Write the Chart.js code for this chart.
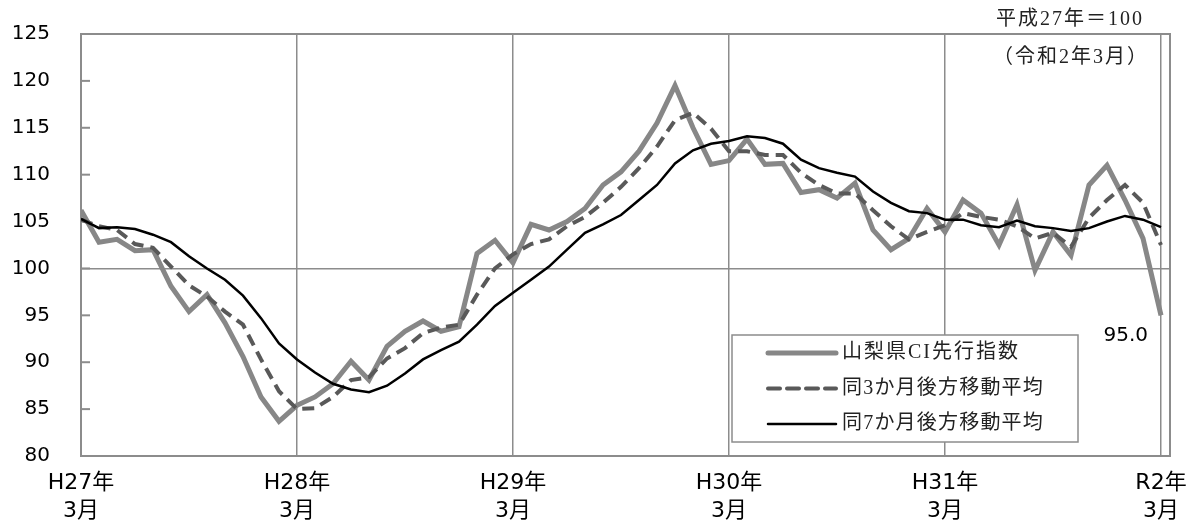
<!DOCTYPE html>
<html>
<head>
<meta charset="utf-8">
<script src="https://cdn.jsdelivr.net/npm/chart.js@4.4.1/dist/chart.umd.min.js"></script>
<style>
    html, body { margin: 0; padding: 0; background: #ffffff; }
</style>
</head>
<body>
<canvas id="ci" width="1192" height="524"></canvas>
<script>
// 山梨県CI先行指数 (H27年3月 ～ R2年3月, 月次)
var meses = [];
for (var i = 0; i <= 60; i++) { meses.push(i); }

var indice = [106.2, 102.8, 103.1, 101.9, 102.0, 98.1, 95.4, 97.2, 94.2, 90.6,
    86.3, 83.7, 85.4, 86.3, 87.7, 90.1, 88.1, 91.7, 93.3, 94.4,
    93.3, 93.8, 101.6, 103.0, 100.6, 104.7, 104.1, 105.0, 106.4, 108.9,
    110.3, 112.5, 115.5, 119.5, 115.0, 111.1, 111.5, 113.8, 111.1, 111.2,
    108.1, 108.4, 107.5, 109.1, 104.1, 102.0, 103.2, 106.4, 103.9, 107.3,
    105.9, 102.5, 106.8, 99.8, 103.9, 101.4, 108.9, 111.0, 107.3, 103.2, 95.0];

var media3 = [105.2, 104.5, 104.1, 102.6, 102.2, 100.2, 98.2, 97.0, 95.4, 94.0,
    90.3, 86.9, 85.0, 85.1, 86.3, 88.1, 88.4, 90.4, 91.5, 93.1,
    93.7, 94.0, 97.2, 100.0, 101.5, 102.6, 103.1, 104.5, 105.5, 107.0,
    108.7, 110.7, 113.0, 115.8, 116.6, 114.9, 112.5, 112.5, 112.1, 112.1,
    110.2, 108.9, 108.0, 108.0, 106.2, 104.5, 103.1, 103.9, 104.6, 105.9,
    105.5, 105.2, 104.5, 103.2, 103.8, 102.3, 105.4, 107.3, 108.9, 107.0, 102.5];

var media7 = [105.3, 104.3, 104.4, 104.2, 103.6, 102.8, 101.3, 100.0, 98.8, 97.1,
    94.7, 92.0, 90.3, 88.9, 87.7, 87.1, 86.8, 87.5, 88.8, 90.3,
    91.3, 92.2, 94.0, 96.0, 97.4, 98.8, 100.2, 102.0, 103.8, 104.7,
    105.7, 107.3, 108.9, 111.2, 112.6, 113.3, 113.6, 114.1, 113.9, 113.3,
    111.6, 110.7, 110.2, 109.8, 108.2, 107.0, 106.1, 105.9, 105.2, 105.2,
    104.6, 104.4, 105.1, 104.5, 104.3, 104.0, 104.3, 105.0, 105.6, 105.2, 104.4];

var posAnio = [0, 12, 24, 36, 48, 60];
var etiquetasAnio = [['H27年', '3月'], ['H28年', '3月'], ['H29年', '3月'],
    ['H30年', '3月'], ['H31年', '3月'], ['R2年', '3月']];

var nombres = ['山梨県CI先行指数', '同3か月後方移動平均', '同7か月後方移動平均'];

function puntos(valores) {
    var salida = [];
    for (var i = 0; i < valores.length; i++) {
        salida.push({ x: meses[i], y: valores[i] });
    }
    return salida;
}

var fuenteSans = "'DejaVu Sans', 'Noto Sans CJK JP', sans-serif";
var fuenteSerif = "'Liberation Serif', 'Noto Sans CJK JP', serif";
var gris = '#8c8c8c';

// marco, marcas del eje y texto
var marco = {
    id: 'marco',
    beforeDatasetsDraw: function (chart) {
        var a = chart.chartArea;
        var ctx = chart.ctx;
        var y = chart.scales.y;
        ctx.save();
        ctx.strokeStyle = gris;
        ctx.lineWidth = 2;
        ctx.strokeRect(a.left, a.top, a.right - a.left, a.bottom - a.top);
        for (var v = 80; v <= 125; v += 5) {
            var py = y.getPixelForValue(v);
            ctx.beginPath();
            ctx.moveTo(a.left, py);
            ctx.lineTo(a.left + 9, py);
            ctx.stroke();
        }
        ctx.restore();
    },
    afterDraw: function (chart) {
        var a = chart.chartArea;
        var ctx = chart.ctx;
        ctx.save();
        ctx.fillStyle = '#222';
        ctx.textBaseline = 'middle';
        ctx.textAlign = 'right';
        ctx.font = '20px ' + fuenteSerif;
        ctx.letterSpacing = '2px';
        ctx.fillText('平成27年＝100', a.right - 26, a.top - 14);
        ctx.fillText('（令和2年3月）', a.right - 21, a.top + 24);
        ctx.letterSpacing = '0px';

        // etiqueta del último valor
        var p = chart.getDatasetMeta(0).data[indice.length - 1];
        ctx.fillStyle = '#000';
        ctx.font = '20px ' + fuenteSans;
        ctx.fillText(indice[indice.length - 1].toFixed(1), p.x - 13, p.y + 20);

        // leyenda
        var x0 = a.left + 651, y0 = a.top + 301, w = 346, h = 107;
        ctx.fillStyle = '#fff';
        ctx.fillRect(x0, y0, w, h);
        ctx.strokeStyle = gris;
        ctx.lineWidth = 1.5;
        ctx.strokeRect(x0, y0, w, h);
        var ds = chart.data.datasets;
        for (var k = 0; k < ds.length; k++) {
            var ly = y0 + 18 + k * 35.5;
            ctx.beginPath();
            ctx.strokeStyle = ds[k].borderColor;
            ctx.lineWidth = ds[k].borderWidth;
            ctx.setLineDash(ds[k].borderDash || []);
            ctx.lineCap = 'round';
            ctx.moveTo(x0 + 36, ly);
            ctx.lineTo(x0 + 104, ly);
            ctx.stroke();
            ctx.setLineDash([]);
            ctx.fillStyle = '#222';
            ctx.textAlign = 'left';
            ctx.font = '20px ' + fuenteSerif;
            ctx.letterSpacing = k === 0 ? '2px' : '1.2px';
            ctx.fillText(ds[k].label, x0 + 110, ly);
            ctx.letterSpacing = '0px';
        }
        ctx.restore();
    }
};

var grafico = new Chart(document.getElementById('ci'), {
    type: 'line',
    data: {
        datasets: [{
            label: nombres[0],
            data: puntos(indice),
            borderColor: '#878787',
            borderWidth: 5,
            pointRadius: 0,
            tension: 0,
            order: 3
        }, {
            label: nombres[1],
            data: puntos(media3),
            borderColor: '#595959',
            borderWidth: 4,
            borderDash: [12, 7],
            pointRadius: 0,
            tension: 0,
            order: 2
        }, {
            label: nombres[2],
            data: puntos(media7),
            borderColor: '#000000',
            borderWidth: 2.5,
            pointRadius: 0,
            tension: 0,
            order: 1
        }]
    },
    options: {
        responsive: false,
        animation: false,
        layout: { padding: { top: 34, right: 22, left: 0, bottom: 0 } },
        plugins: {
            legend: { display: false },
            tooltip: { enabled: false }
        },
        scales: {
            x: {
                type: 'linear',
                min: 0,
                max: 60.5,
                afterBuildTicks: function (axis) {
                    axis.ticks = posAnio.map(function (v) { return { value: v }; });
                },
                afterFit: function (axis) {
                    axis.height = 68;
                    axis.paddingLeft = 0;
                    axis.paddingRight = 0;
                },
                border: { display: false },
                grid: { color: gris, lineWidth: 1.5, drawTicks: false },
                ticks: {
                    autoSkip: false,
                    maxRotation: 0,
                    padding: 14,
                    color: '#000',
                    font: { family: fuenteSans, size: 22, lineHeight: 1.25 },
                    callback: function (value) {
                        return etiquetasAnio[posAnio.indexOf(value)];
                    }
                }
            },
            y: {
                min: 80,
                max: 125,
                afterFit: function (axis) {
                    axis.width = 81;
                    axis.paddingTop = 0;
                    axis.paddingBottom = 0;
                },
                border: { display: false },
                grid: {
                    drawTicks: false,
                    lineWidth: 1.5,
                    color: function (c) { return c.tick && c.tick.value === 100 ? gris : 'rgba(0,0,0,0)'; }
                },
                ticks: {
                    stepSize: 5,
                    padding: 31,
                    color: '#000',
                    font: { family: fuenteSans, size: 20 }
                }
            }
        }
    },
    plugins: [marco]
});
</script>
</body>
</html>
